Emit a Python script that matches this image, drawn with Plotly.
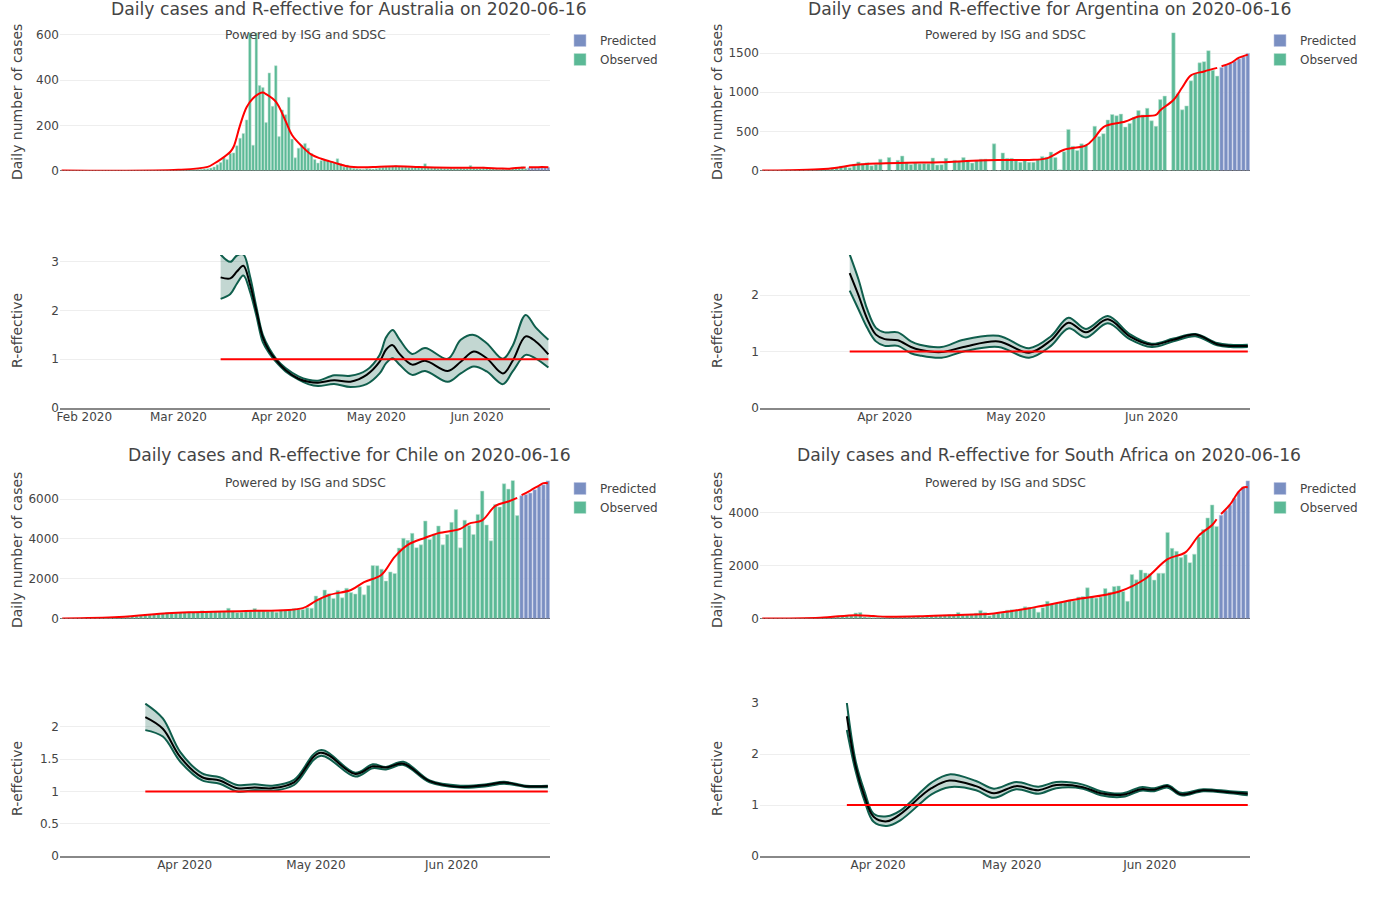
"""
Daily cases and R-effective for four countries, 2 x 2 dashboard
"""

import pandas as pd
import plotly.graph_objects as go

COUNTRIES = ["Australia", "Argentina", "Chile", "South Africa"]
REPORT_DATE = "2020-06-16"

# ---- Australia
AU_OBSERVED = [
    0, 0, 0, 0, 0, 0, 0, 0, 0, 0, 0, 0, 0, 0, 0, 0, 0, 0, 0, 0, 0, 0, 0, 0, 0, 0, 0, 0, 0, 0,
    0, 0, 0, 0, 0, 1, 1, 3, 2, 3, 3, 4, 5, 6, 7, 8, 11, 16, 25, 35, 56, 49, 75, 78, 110, 143,
    164, 224, 610, 112, 610, 376, 367, 212, 432, 284, 464, 150, 268, 247, 324, 139, 56, 99,
    112, 120, 99, 75, 49, 33, 44, 50, 46, 40, 35, 52, 31, 16, 24, 14, 10, 8, 7, 6, 9, 8, 7, 9,
    12, 14, 17, 16, 19, 22, 18, 15, 17, 14, 16, 13, 16, 15, 30, 14, 12, 13, 10, 11, 10, 9, 11,
    10, 9, 11, 10, 9, 22, 11, 9, 10, 15, 9, 8, 9, 7, 6, 7, 5, 7, 9, 11, 12, 17, 8,
]
AU_PREDICTED = [12, 12, 12, 12, 13, 13, 13]
AU_TREND_DATES = [
    "01-25", "03-01", "03-10", "03-12", "03-14", "03-17", "03-18", "03-20", "03-22", "03-24",
    "03-27", "03-28", "03-31", "04-03", "04-05", "04-08", "04-11", "04-14", "04-18", "04-22",
    "04-24", "04-27", "04-30", "05-04", "05-07", "05-10", "05-14", "05-19", "05-24", "05-29",
    "06-03", "06-08", "06-11", "06-13", "06-16",
]
AU_TREND = [
    0, 3, 16, 31, 49, 83, 105, 201, 280, 320, 345, 338, 305, 220, 157, 108, 70, 52, 35, 19, 15,
    14, 15, 18, 19, 18, 15, 13, 12, 12, 12, 9, 8, 11, 13,
]
AU_FORECAST_DATES = ["06-17", "06-19", "06-21", "06-23"]
AU_FORECAST = [14, 14, 15, 14]
AU_R_DATES = [
    "03-14", "03-17", "03-19", "03-21", "03-23", "03-25", "03-27", "03-29", "03-31", "04-03",
    "04-07", "04-10", "04-13", "04-18", "04-23", "04-28", "05-02", "05-04", "05-06", "05-08",
    "05-12", "05-16", "05-23", "05-27", "05-31", "06-04", "06-09", "06-12", "06-16", "06-19",
    "06-23",
]
AU_R = [
    2.68, 2.66, 2.8, 2.92, 2.55, 2.0, 1.45, 1.17, 0.99, 0.78, 0.6, 0.54, 0.52, 0.57, 0.54, 0.68,
    0.95, 1.2, 1.29, 1.12, 0.89, 0.97, 0.76, 0.95, 1.16, 1.02, 0.71, 0.97, 1.47, 1.37, 1.10,
]
AU_R_UPPER = [
    3.15, 3.0, 3.13, 3.15, 2.72, 2.08, 1.5, 1.22, 1.02, 0.82, 0.65, 0.58, 0.56, 0.67, 0.66, 0.78,
    1.09, 1.45, 1.6, 1.42, 1.11, 1.23, 1.01, 1.4, 1.5, 1.33, 1.01, 1.28, 1.91, 1.66, 1.4,
]
AU_R_LOWER = [
    2.24, 2.34, 2.55, 2.72, 2.4, 1.9, 1.35, 1.12, 0.95, 0.75, 0.58, 0.49, 0.45, 0.49, 0.43, 0.49,
    0.71, 0.92, 1.02, 0.9, 0.68, 0.76, 0.54, 0.71, 0.85, 0.75, 0.49, 0.75, 1.09, 1.02, 0.83,
]

# ---- Argentina
AR_OBSERVED = [
    0, 1, 0, 2, 0, 1, 2, 3, 3, 4, 6, 8, 10, 12, 15, 20, 30, 35, 55, 48, 35, 80, 110, 85, 100,
    60, 80, 145, 0, 165, 0, 130, 185, 100, 78, 95, 85, 90, 85, 160, 70, 75, 155, 0, 130, 120,
    165, 120, 95, 130, 145, 145, 0, 340, 0, 225, 155, 155, 125, 105, 130, 105, 105, 140, 180,
    170, 235, 165, 10, 240, 525, 310, 255, 340, 325, 0, 565, 435, 470, 645, 715, 700, 720,
    555, 600, 680, 765, 710, 795, 635, 565, 905, 950, 0, 1760, 980, 775, 825, 1145, 1240,
    1375, 1390, 1530, 1280, 1205,
]
AR_PREDICTED = [1315, 1340, 1365, 1395, 1425, 1450, 1495]
AR_TREND_DATES = [
    "03-04", "03-10", "03-17", "03-21", "03-25", "03-31", "04-06", "04-14", "04-21", "04-27",
    "05-04", "05-08", "05-12", "05-17", "05-19", "05-21", "05-26", "05-29", "06-02", "06-03",
    "06-06", "06-08", "06-10", "06-13", "06-16",
]
AR_TREND = [
    0, 3, 15, 35, 70, 90, 100, 105, 125, 135, 135, 155, 265, 320, 420, 555, 625, 690, 710, 770,
    900, 1060, 1215, 1265, 1310,
]
AR_FORECAST_DATES = ["06-17", "06-19", "06-21", "06-23"]
AR_FORECAST = [1330, 1370, 1440, 1480]
AR_R_DATES = [
    "03-24", "03-26", "03-28", "03-30", "04-01", "04-04", "04-07", "04-09", "04-14", "04-19",
    "04-27", "05-04", "05-09", "05-13", "05-17", "05-22", "05-27", "06-01", "06-06", "06-11",
    "06-16", "06-19", "06-23",
]
AR_R = [
    2.39, 2.0, 1.58, 1.3, 1.22, 1.2, 1.08, 1.03, 0.99, 1.08, 1.18, 0.98, 1.2, 1.51, 1.34, 1.57,
    1.27, 1.12, 1.21, 1.3, 1.13, 1.10, 1.10,
]
AR_R_UPPER = [
    2.72, 2.28, 1.75, 1.42, 1.34, 1.34, 1.18, 1.12, 1.08, 1.21, 1.28, 1.06, 1.27, 1.6, 1.4, 1.63,
    1.31, 1.14, 1.23, 1.31, 1.15, 1.12, 1.12,
]
AR_R_LOWER = [
    2.08, 1.75, 1.42, 1.18, 1.10, 1.1, 0.97, 0.93, 0.89, 1.0, 1.08, 0.89, 1.1, 1.41, 1.25, 1.5,
    1.22, 1.08, 1.18, 1.27, 1.11, 1.08, 1.08,
]

# ---- Chile
CL_OBSERVED = [
    1, 2, 2, 3, 3, 5, 5, 10, 10, 15, 25, 30, 40, 50, 60, 80, 100, 120, 150, 170, 190, 210, 240,
    260, 300, 300, 280, 300, 300, 330, 320, 300, 395, 360, 340, 350, 340, 345, 515, 380, 300,
    320, 350, 370, 500, 400, 380, 370, 380, 320, 420, 420, 440, 500, 470, 450, 540, 520, 1130,
    1000, 1430, 1240, 1010, 1410, 1040, 1520, 1300, 1230, 1590, 1190, 1660, 2660, 2650, 2480,
    1880, 2340, 2260, 3540, 4030, 3930, 4280, 3560, 3700, 4900, 3970, 4250, 4650, 3700, 4220,
    4830, 5470, 3550, 4940, 4670, 4220, 5230, 6400, 4700, 3900, 5730, 5600, 6770, 6500, 6940,
    5170,
]
CL_PREDICTED = [6170, 6230, 6300, 6470, 6640, 6720, 6920]
CL_TREND_DATES = [
    "03-04", "03-17", "03-28", "04-02", "04-15", "04-28", "05-01", "05-04", "05-09", "05-12",
    "05-16", "05-19", "05-22", "05-26", "05-29", "06-03", "06-05", "06-08", "06-11", "06-14",
    "06-16",
]
CL_TREND = [
    0, 70, 270, 320, 380, 520, 890, 1180, 1430, 1830, 2200, 3100, 3700, 4060, 4290, 4500, 4770,
    4930, 5660, 5880, 6060,
]
CL_FORECAST_DATES = ["06-17", "06-19", "06-21", "06-22", "06-23"]
CL_FORECAST = [6200, 6430, 6680, 6800, 6800]
CL_R_DATES = [
    "03-23", "03-27", "03-31", "04-05", "04-09", "04-13", "04-17", "04-21", "04-26", "05-02",
    "05-10", "05-14", "05-17", "05-21", "05-27", "06-03", "06-09", "06-13", "06-18", "06-23",
]
CL_R = [
    2.15, 1.97, 1.53, 1.22, 1.17, 1.05, 1.06, 1.05, 1.14, 1.6, 1.27, 1.39, 1.37, 1.43, 1.16, 1.07,
    1.10, 1.14, 1.08, 1.08,
]
CL_R_UPPER = [
    2.36, 2.13, 1.61, 1.28, 1.22, 1.10, 1.11, 1.09, 1.18, 1.64, 1.29, 1.42, 1.38, 1.46, 1.17, 1.09,
    1.11, 1.15, 1.09, 1.09,
]
CL_R_LOWER = [
    1.95, 1.85, 1.46, 1.17, 1.12, 1.0, 1.02, 1.01, 1.1, 1.55, 1.23, 1.36, 1.34, 1.41, 1.14, 1.06,
    1.08, 1.12, 1.07, 1.065,
]

# ---- South Africa
ZA_OBSERVED = [
    1, 2, 2, 3, 5, 5, 7, 10, 15, 20, 25, 30, 35, 40, 45, 55, 65, 80, 100, 120, 115, 210, 225, 60,
    50, 40, 45, 50, 50, 60, 60, 70, 75, 70, 70, 80, 60, 70, 110, 120, 110, 125, 145, 150, 230,
    130, 135, 170, 200, 305, 230, 100, 170, 210, 210, 310, 330, 320, 360, 440, 420, 400, 240,
    410, 650, 550, 560, 610, 640, 700, 660, 810, 830, 1160, 830, 770, 810, 1130, 990, 1210,
    1230, 1020, 650, 1660, 1460, 1830, 1720, 1690, 1450, 1710, 1710, 3250, 2650, 2540, 2300,
    2410, 2110, 2430, 3080, 3360, 3800, 4290, 3480,
]
ZA_PREDICTED = [3900, 4090, 4280, 4530, 4780, 4970, 5200]
ZA_TREND_DATES = [
    "03-06", "03-19", "03-27", "03-31", "04-03", "04-11", "04-18", "04-27", "05-06", "05-15",
    "05-25", "05-31", "06-05", "06-09", "06-12", "06-15", "06-16",
]
ZA_TREND = [
    0, 30, 125, 90, 65, 85, 125, 190, 420, 710, 1010, 1500, 2240, 2500, 3130, 3530, 3750,
]
ZA_FORECAST_DATES = ["06-17", "06-19", "06-21", "06-22", "06-23"]
ZA_FORECAST = [3950, 4300, 4800, 4950, 4960]
ZA_R_DATES = [
    "03-25", "03-27", "03-29", "03-31", "04-03", "04-06", "04-11", "04-13", "04-17", "04-23",
    "04-27", "05-02", "05-07", "05-11", "05-17", "05-21", "05-26", "05-30", "06-02", "06-05",
    "06-08", "06-13", "06-19", "06-23",
]
ZA_R = [
    2.74, 1.75, 1.16, 0.77, 0.68, 0.82, 1.2, 1.33, 1.48, 1.37, 1.23, 1.37, 1.29, 1.39, 1.35, 1.23,
    1.20, 1.31, 1.30, 1.37, 1.21, 1.29, 1.25, 1.22,
]
ZA_R_UPPER = [
    3.0, 1.85, 1.26, 0.83, 0.78, 0.89, 1.29, 1.44, 1.6, 1.47, 1.32, 1.45, 1.36, 1.45, 1.40, 1.27,
    1.23, 1.35, 1.33, 1.39, 1.24, 1.31, 1.27, 1.25,
]
ZA_R_LOWER = [
    2.47, 1.65, 1.07, 0.67, 0.59, 0.70, 1.07, 1.21, 1.35, 1.29, 1.14, 1.31, 1.22, 1.33, 1.32, 1.19,
    1.16, 1.28, 1.27, 1.34, 1.19, 1.27, 1.23, 1.19,
]

# Axis settings per panel
FIRST_DAYS = ["2020-01-25", "2020-03-04", "2020-03-04", "2020-03-06"]
CASE_TOPS = [611, 1762, 6933, 5213]
R_TOPS = [3.14, 2.71, 2.37, 3.0]
R_TICKS = [[0, 1, 2, 3], [0, 1, 2], [0, 0.5, 1, 1.5, 2], [0, 1, 2, 3]]
R_TICK_TEXT = [["0", "1", "2", "3"], ["0", "1", "2"], ["0", "0.5", "1", "1.5", "2"], ["0", "1", "2", "3"]]

WIDTH = 1400
HEIGHT = 900
FONT = "DejaVu Sans"
GREEN = "#5bb996"
BLUE = "#7a8fc2"
BAND = "#0f5e4c"


def px_x(x):
    return x / WIDTH


def px_y(y):
    return 1 - y / HEIGHT


def day(md):
    return "2020-" + md


fig = go.Figure()
annotations = []
panels = [
    (AU_OBSERVED, AU_PREDICTED, AU_TREND_DATES, AU_TREND, AU_FORECAST_DATES, AU_FORECAST,
     AU_R_DATES, AU_R, AU_R_UPPER, AU_R_LOWER),
    (AR_OBSERVED, AR_PREDICTED, AR_TREND_DATES, AR_TREND, AR_FORECAST_DATES, AR_FORECAST,
     AR_R_DATES, AR_R, AR_R_UPPER, AR_R_LOWER),
    (CL_OBSERVED, CL_PREDICTED, CL_TREND_DATES, CL_TREND, CL_FORECAST_DATES, CL_FORECAST,
     CL_R_DATES, CL_R, CL_R_UPPER, CL_R_LOWER),
    (ZA_OBSERVED, ZA_PREDICTED, ZA_TREND_DATES, ZA_TREND, ZA_FORECAST_DATES, ZA_FORECAST,
     ZA_R_DATES, ZA_R, ZA_R_UPPER, ZA_R_LOWER),
]

for k, panel in enumerate(panels):
    observed, predicted, trend_dates, trend, fc_dates, forecast, r_dates, r, r_up, r_lo = panel
    left = 700 * (k % 2)
    top = 448 * (k // 2)
    top_ax = 2 * k + 1
    bot_ax = 2 * k + 2
    legend_name = "legend" if k == 0 else f"legend{k + 1}"
    all_days = pd.date_range(FIRST_DAYS[k], periods=len(observed) + len(predicted))
    obs_days = all_days[:len(observed)]
    pred_days = all_days[len(observed):]
    x_range = [all_days[0] - pd.Timedelta(hours=12), all_days[-1] + pd.Timedelta(hours=12)]

    # Upper plot: bars and smoothed red line
    top_refs = dict(xaxis=f"x{top_ax}", yaxis=f"y{top_ax}")
    bot_refs = dict(xaxis=f"x{bot_ax}", yaxis=f"y{bot_ax}")
    fig.add_trace(go.Bar(
        x=pred_days, y=predicted, name="Predicted", legend=legend_name,
        marker=dict(color=BLUE, line=dict(color="rgba(190,200,228,0.8)", width=0.7)),
        **top_refs
    ))
    fig.add_trace(go.Bar(
        x=obs_days, y=observed, name="Observed", legend=legend_name,
        marker=dict(color=GREEN, line=dict(color="rgba(190,228,212,0.8)", width=0.7)),
        **top_refs
    ))
    red_line = dict(color="#ff0000", width=2, shape="spline", smoothing=1.0)
    fig.add_trace(go.Scatter(
        x=[day(d) for d in trend_dates], y=trend, mode="lines", line=red_line,
        showlegend=False, **top_refs
    ))
    fig.add_trace(go.Scatter(
        x=[day(d) for d in fc_dates], y=forecast, mode="lines", line=red_line,
        showlegend=False, **top_refs
    ))

    # Lower plot: R-effective with band
    r_x = [day(d) for d in r_dates]
    fig.add_trace(go.Scatter(
        x=r_x, y=r_up, mode="lines",
        line=dict(color=BAND, width=2, shape="spline", smoothing=1.0),
        showlegend=False, **bot_refs
    ))
    fig.add_trace(go.Scatter(
        x=r_x, y=r_lo, mode="lines", fill="tonexty", fillcolor="rgba(15,94,76,0.25)",
        line=dict(color=BAND, width=2, shape="spline", smoothing=1.0),
        showlegend=False, **bot_refs
    ))
    fig.add_trace(go.Scatter(
        x=r_x, y=r, mode="lines",
        line=dict(color="black", width=2, shape="spline", smoothing=1.0),
        showlegend=False, **bot_refs
    ))
    fig.add_trace(go.Scatter(
        x=[r_x[0], r_x[-1]], y=[1, 1], mode="lines",
        line=dict(color="#ff0000", width=2),
        showlegend=False, **bot_refs
    ))

    x_dom = [px_x(left + 60), px_x(left + 550)]
    fig.update_layout({
        f"xaxis{top_ax}": dict(
            domain=x_dom, range=x_range, anchor=f"y{top_ax}", type="date",
            showticklabels=False, ticks="", showgrid=False, zeroline=False,
        ),
        f"yaxis{top_ax}": dict(
            domain=[px_y(top + 170.5), px_y(top + 32.5)], range=[0, CASE_TOPS[k]],
            anchor=f"x{top_ax}", gridcolor="#eeeeee", zeroline=True, zerolinecolor="#444444",
            zerolinewidth=1, tickfont=dict(size=12),
        ),
        f"xaxis{bot_ax}": dict(
            domain=x_dom, range=x_range, anchor=f"y{bot_ax}", type="date",
            dtick="M1", tickformat="%b %Y", showgrid=False, zeroline=False,
            showline=True, linecolor="#888888", linewidth=2, tickfont=dict(size=12),
            ticklabelstandoff=-3,
        ),
        f"yaxis{bot_ax}": dict(
            domain=[px_y(top + 408), px_y(top + 255)], range=[0, R_TOPS[k]],
            anchor=f"x{bot_ax}", gridcolor="#eeeeee", zeroline=False,
            tickmode="array", tickvals=R_TICKS[k], ticktext=R_TICK_TEXT[k],
            tickfont=dict(size=12),
        ),
        legend_name: dict(
            x=px_x(left + 560), xanchor="left", y=px_y(top + 26), yanchor="top",
            bgcolor="rgba(0,0,0,0)", font=dict(size=12), traceorder="normal",
        ),
    })

    # Titles and side labels, the first row title sits against the page top
    title_y = 9 if top == 0 else top + 7
    annotations.append(dict(
        text=f"Daily cases and R-effective for {COUNTRIES[k]} on {REPORT_DATE}",
        x=px_x(left + 349), y=px_y(title_y), xref="paper", yref="paper",
        xanchor="center", yanchor="middle", showarrow=False, font=dict(size=17.2),
    ))
    annotations.append(dict(
        text="Powered by ISG and SDSC",
        x=px_x(left + 305), y=px_y(top + 35), xref="paper", yref="paper",
        xanchor="center", yanchor="middle", showarrow=False, font=dict(size=12.3),
    ))
    annotations.append(dict(
        text="Daily number of cases",
        x=px_x(left + 17), y=px_y(top + 102), xref="paper", yref="paper",
        xanchor="center", yanchor="middle", textangle=-90, showarrow=False,
        font=dict(size=14),
    ))
    annotations.append(dict(
        text="R-effective",
        x=px_x(left + 17), y=px_y(top + 331), xref="paper", yref="paper",
        xanchor="center", yanchor="middle", textangle=-90, showarrow=False,
        font=dict(size=14),
    ))

fig.update_layout(
    width=WIDTH,
    height=HEIGHT,
    margin=dict(l=0, r=0, t=0, b=0, autoexpand=False),
    template="plotly_white",
    barmode="overlay",
    bargap=0.2,
    font=dict(family=FONT, color="#444444"),
    annotations=annotations,
    paper_bgcolor="white",
    plot_bgcolor="white",
)

# the default page has an 8px body margin, drop it so the figure fills the window
fig.write_html(
    "out.html",
    config=dict(displayModeBar=False),
    post_script="document.body.style.margin = '0';",
)
